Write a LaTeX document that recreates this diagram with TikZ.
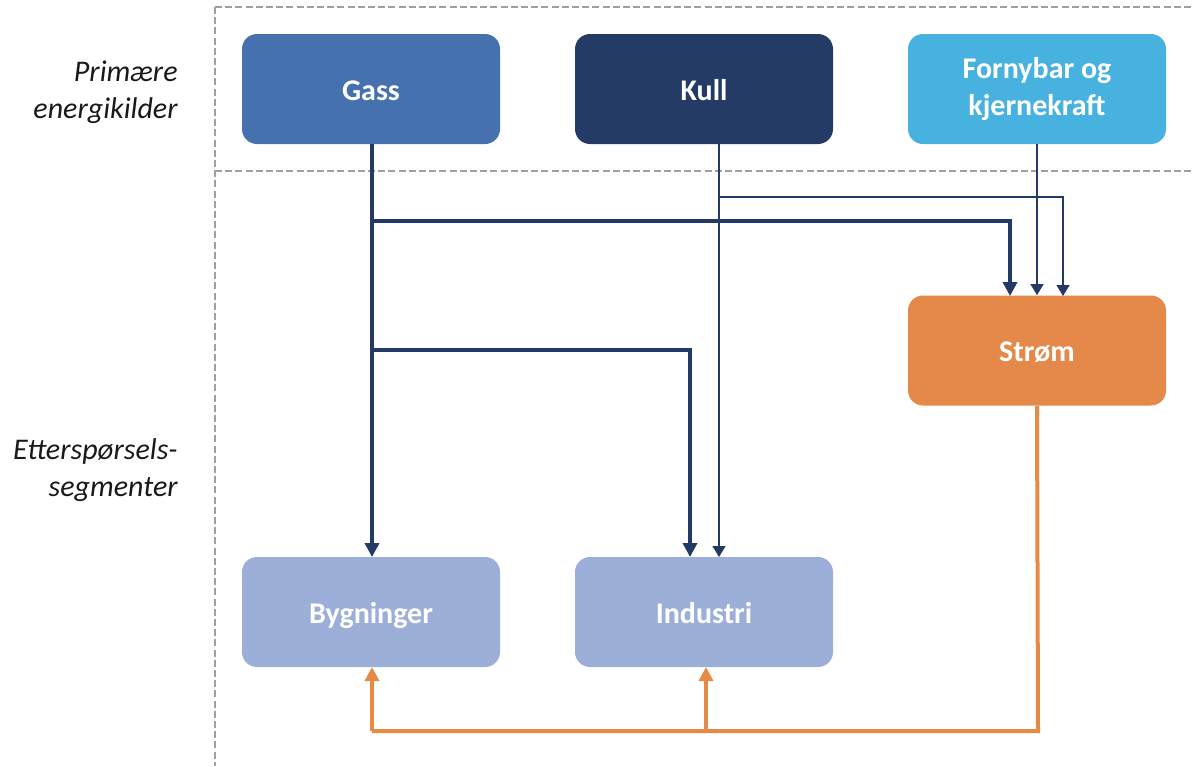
\documentclass[tikz,border=0pt]{standalone}
\usepackage{fontspec}
\setmainfont{Carlito}
\usetikzlibrary{arrows.meta}
\definecolor{gasscol}{HTML}{4571AE}
\definecolor{kullcol}{HTML}{243B66}
\definecolor{fornycol}{HTML}{47B2E0}
\definecolor{stromcol}{HTML}{E5894A}
\definecolor{segcol}{HTML}{9BAFD8}
\definecolor{navy}{HTML}{233A66}
\definecolor{orangeline}{HTML}{E68A45}
\definecolor{dashgray}{HTML}{A0A0A0}
% fixed-height strut so single-line box labels sit at the same height
\newcommand\boxstrut{\rule[-4.7pt]{0pt}{20.7pt}}
\tikzset{
  box/.style={rectangle, rounded corners=7.5pt, minimum width=129pt, minimum height=55pt,
    inner sep=0pt, text=white, align=center, font=\fontsize{15}{18.5}\selectfont\bfseries},
  sidelabel/.style={align=right, anchor=east, inner sep=0pt, text=black!90,
    font=\fontsize{15}{18.5}\selectfont\itshape},
  divider/.style={dashgray, line width=0.75pt, dash pattern=on 3.5pt off 1.6pt},
  flowthick/.style={navy, line width=2pt, -{Triangle[width=7pt,length=7pt]}},
  flowthin/.style={navy, line width=0.75pt, -{Triangle[width=6.5pt,length=5.5pt]}},
  flowel/.style={orangeline, line width=2pt},
  flowelarrow/.style={flowel, -{Triangle[width=7pt,length=7pt]}}
}
\begin{document}
\begin{tikzpicture}[x=0.5pt,y=-0.5pt]
\useasboundingbox (0,0) rectangle (1192,766);

% section dividers
\draw[divider] (215,7) -- (1192,7);
\draw[divider] (215,171) -- (1192,171);
\draw[divider] (215,7) -- (215,766);

% row labels
\node[sidelabel] (lblprim) at (178,92) {Primære\\energikilder};
\node[sidelabel] (lbldem) at (178,470) {Etterspørsels-\\segmenter};

% energy sources
\node[box, fill=gasscol] (gass) at (371,89) {\boxstrut Gass};
\node[box, fill=kullcol] (kull) at (704,89) {\boxstrut Kull};
\node[box, fill=fornycol] (forny) at (1037,89) {Fornybar og\\kjernekraft};

% electricity
\node[box, fill=stromcol] (strom) at (1037,350.5) {\boxstrut Strøm};

% demand segments
\node[box, fill=segcol] (bygg) at (371,612) {\boxstrut Bygninger};
\node[box, fill=segcol] (ind) at (704,612) {\boxstrut Industri};

% gas flows
\coordinate (gtop) at (372,144);
\coordinate (gj1) at (372,221);
\coordinate (gj2) at (372,350);
\coordinate (sgass) at (1010,296);
\coordinate (igass) at (690,557);
\coordinate (bgass) at (372,557);
\draw[flowthick] (gtop) -- (bgass);
\draw[flowthick] (gj1) -| (sgass);
\draw[flowthick] (gj2) -| (igass);

% coal flows
\coordinate (ktop) at (719,144);
\coordinate (kj) at (719,197);
\coordinate (ikull) at (719,557);
\coordinate (skull) at (1063,296);
\draw[flowthin] (ktop) -- (ikull);
\draw[flowthin] (kj) -| (skull);

% renewables and nuclear
\draw[flowthin] (forny.south) -- (strom.north);

% electricity to demand segments
\coordinate (ecorner) at (1038,731);
\coordinate (ej) at (706,731);
\coordinate (eleft) at (372,731);
\coordinate (bel) at (372,667);
\coordinate (iel) at (706,667);
\draw[flowel, line join=miter] (strom.south) -- (ecorner) -- (eleft);
\draw[flowelarrow] (eleft) -- (bel);
\draw[flowelarrow] (ej) -- (iel);
\end{tikzpicture}
\end{document}
